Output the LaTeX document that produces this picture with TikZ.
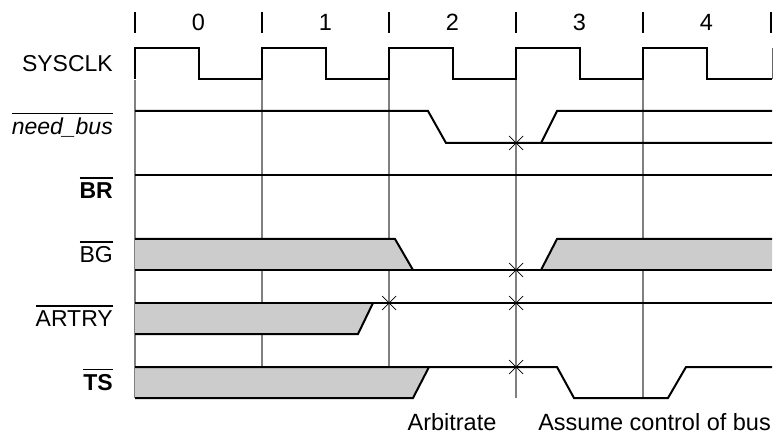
\documentclass[tikz,border=0pt]{standalone}
\usepackage{fontspec}
\setmainfont{Liberation Sans}
\newcommand\ovl[1]{\leavevmode\setbox0\hbox{#1}\rlap{\raise\dimexpr\ht0+4pt\relax\hbox{\vrule width\wd0 height 1.8pt}}\box0}
\tikzset{
  sig/.style={line width=2pt, black, line join=miter},
  gridline/.style={line width=1.3pt, black!50},
  shadefill/.style={fill=black!20, draw=none},
  xmark/.style={line width=0.7pt},
  tickmark/.style={line width=2pt},
  lbl/.style={anchor=base east, inner sep=0pt, font=\fontsize{23}{27}\selectfont},
  numlbl/.style={anchor=base, inner sep=0pt, font=\fontsize{23.5}{27}\selectfont},
  botlbl/.style={anchor=base, inner sep=0pt, font=\fontsize{23.5}{27}\selectfont},
}
\begin{document}
\begin{tikzpicture}[x=1pt,y=-1pt]
\useasboundingbox (0,0) rectangle (773,435);
% cycle ticks and numbers
\foreach \xx in {135,262,389,516,643,771} \draw[tickmark] (\xx,12) -- (\xx,33);
\foreach \n in {0,...,4} \node[numlbl] (num\n) at (198.5+127*\n,31) {\n};
% grid lines
\foreach \xx in {135,262,389,516,643} \draw[gridline] (\xx,80) -- (\xx,398);
% shaded regions
\fill[shadefill] (135,239) -- (395,239) -- (413,270) -- (135,270) -- cycle;
\fill[shadefill] (541,270) -- (557,239) -- (772,239) -- (772,270) -- cycle;
\fill[shadefill] (135,303) -- (373,303) -- (358,334) -- (135,334) -- cycle;
\fill[shadefill] (135,367) -- (429,367) -- (413,398) -- (135,398) -- cycle;
% labels
\node[lbl] (lclk) at (113,71.5) {SYSCLK};
\node[lbl] (lneed) at (113,135) {\ovl{\itshape need\_bus}};
\node[lbl] (lbr) at (113,199) {\ovl{\bfseries BR}};
\node[lbl] (lbg) at (113,263) {\ovl{BG}};
\node[lbl] (lartry) at (113,326.5) {\ovl{ARTRY}};
\node[lbl] (lts) at (113,390.5) {\ovl{\bfseries TS}};
% SYSCLK
\draw[sig] (135,79) -- (135,48) -- (198.5,48) -- (198.5,79) -- (262,79) -- (262,48) -- (325.5,48) -- (325.5,79)
  -- (389,79) -- (389,48) -- (452.5,48) -- (452.5,79) -- (516,79) -- (516,48) -- (579.5,48) -- (579.5,79)
  -- (643,79) -- (643,48) -- (707,48) -- (707,79) -- (772,79);
\draw[line width=1pt, black!60] (772,48) -- (772,79);
% need_bus
\draw[sig] (135,111) -- (428,111) -- (446,143) -- (772,143);
\draw[sig] (541,143) -- (557,111) -- (772,111);
% BR
\draw[sig] (135,175) -- (772,175);
% BG
\draw[sig] (135,239) -- (395,239) -- (413,270);
\draw[sig] (135,270) -- (772,270);
\draw[sig] (541,270) -- (557,239) -- (772,239);
% ARTRY
\draw[sig] (135,303) -- (772,303);
\draw[sig] (135,334) -- (358,334) -- (373,303);
% TS
\draw[sig] (135,367) -- (557,367) -- (574,398) -- (668,398) -- (686,367) -- (772,367);
\draw[sig] (135,398) -- (413,398) -- (429,367);
% X marks
\foreach \px/\py in {516/143,516/270,389/303,516/303,516/367}
  \draw[xmark] (\px-7,\py-7) -- (\px+7,\py+7) (\px-7,\py+7) -- (\px+7,\py-7);
% bottom labels
\node[botlbl] (arb) at (452,430) {Arbitrate};
\node[botlbl, anchor=base east] (assume) at (771,430) {Assume control of bus};
\end{tikzpicture}
\end{document}
